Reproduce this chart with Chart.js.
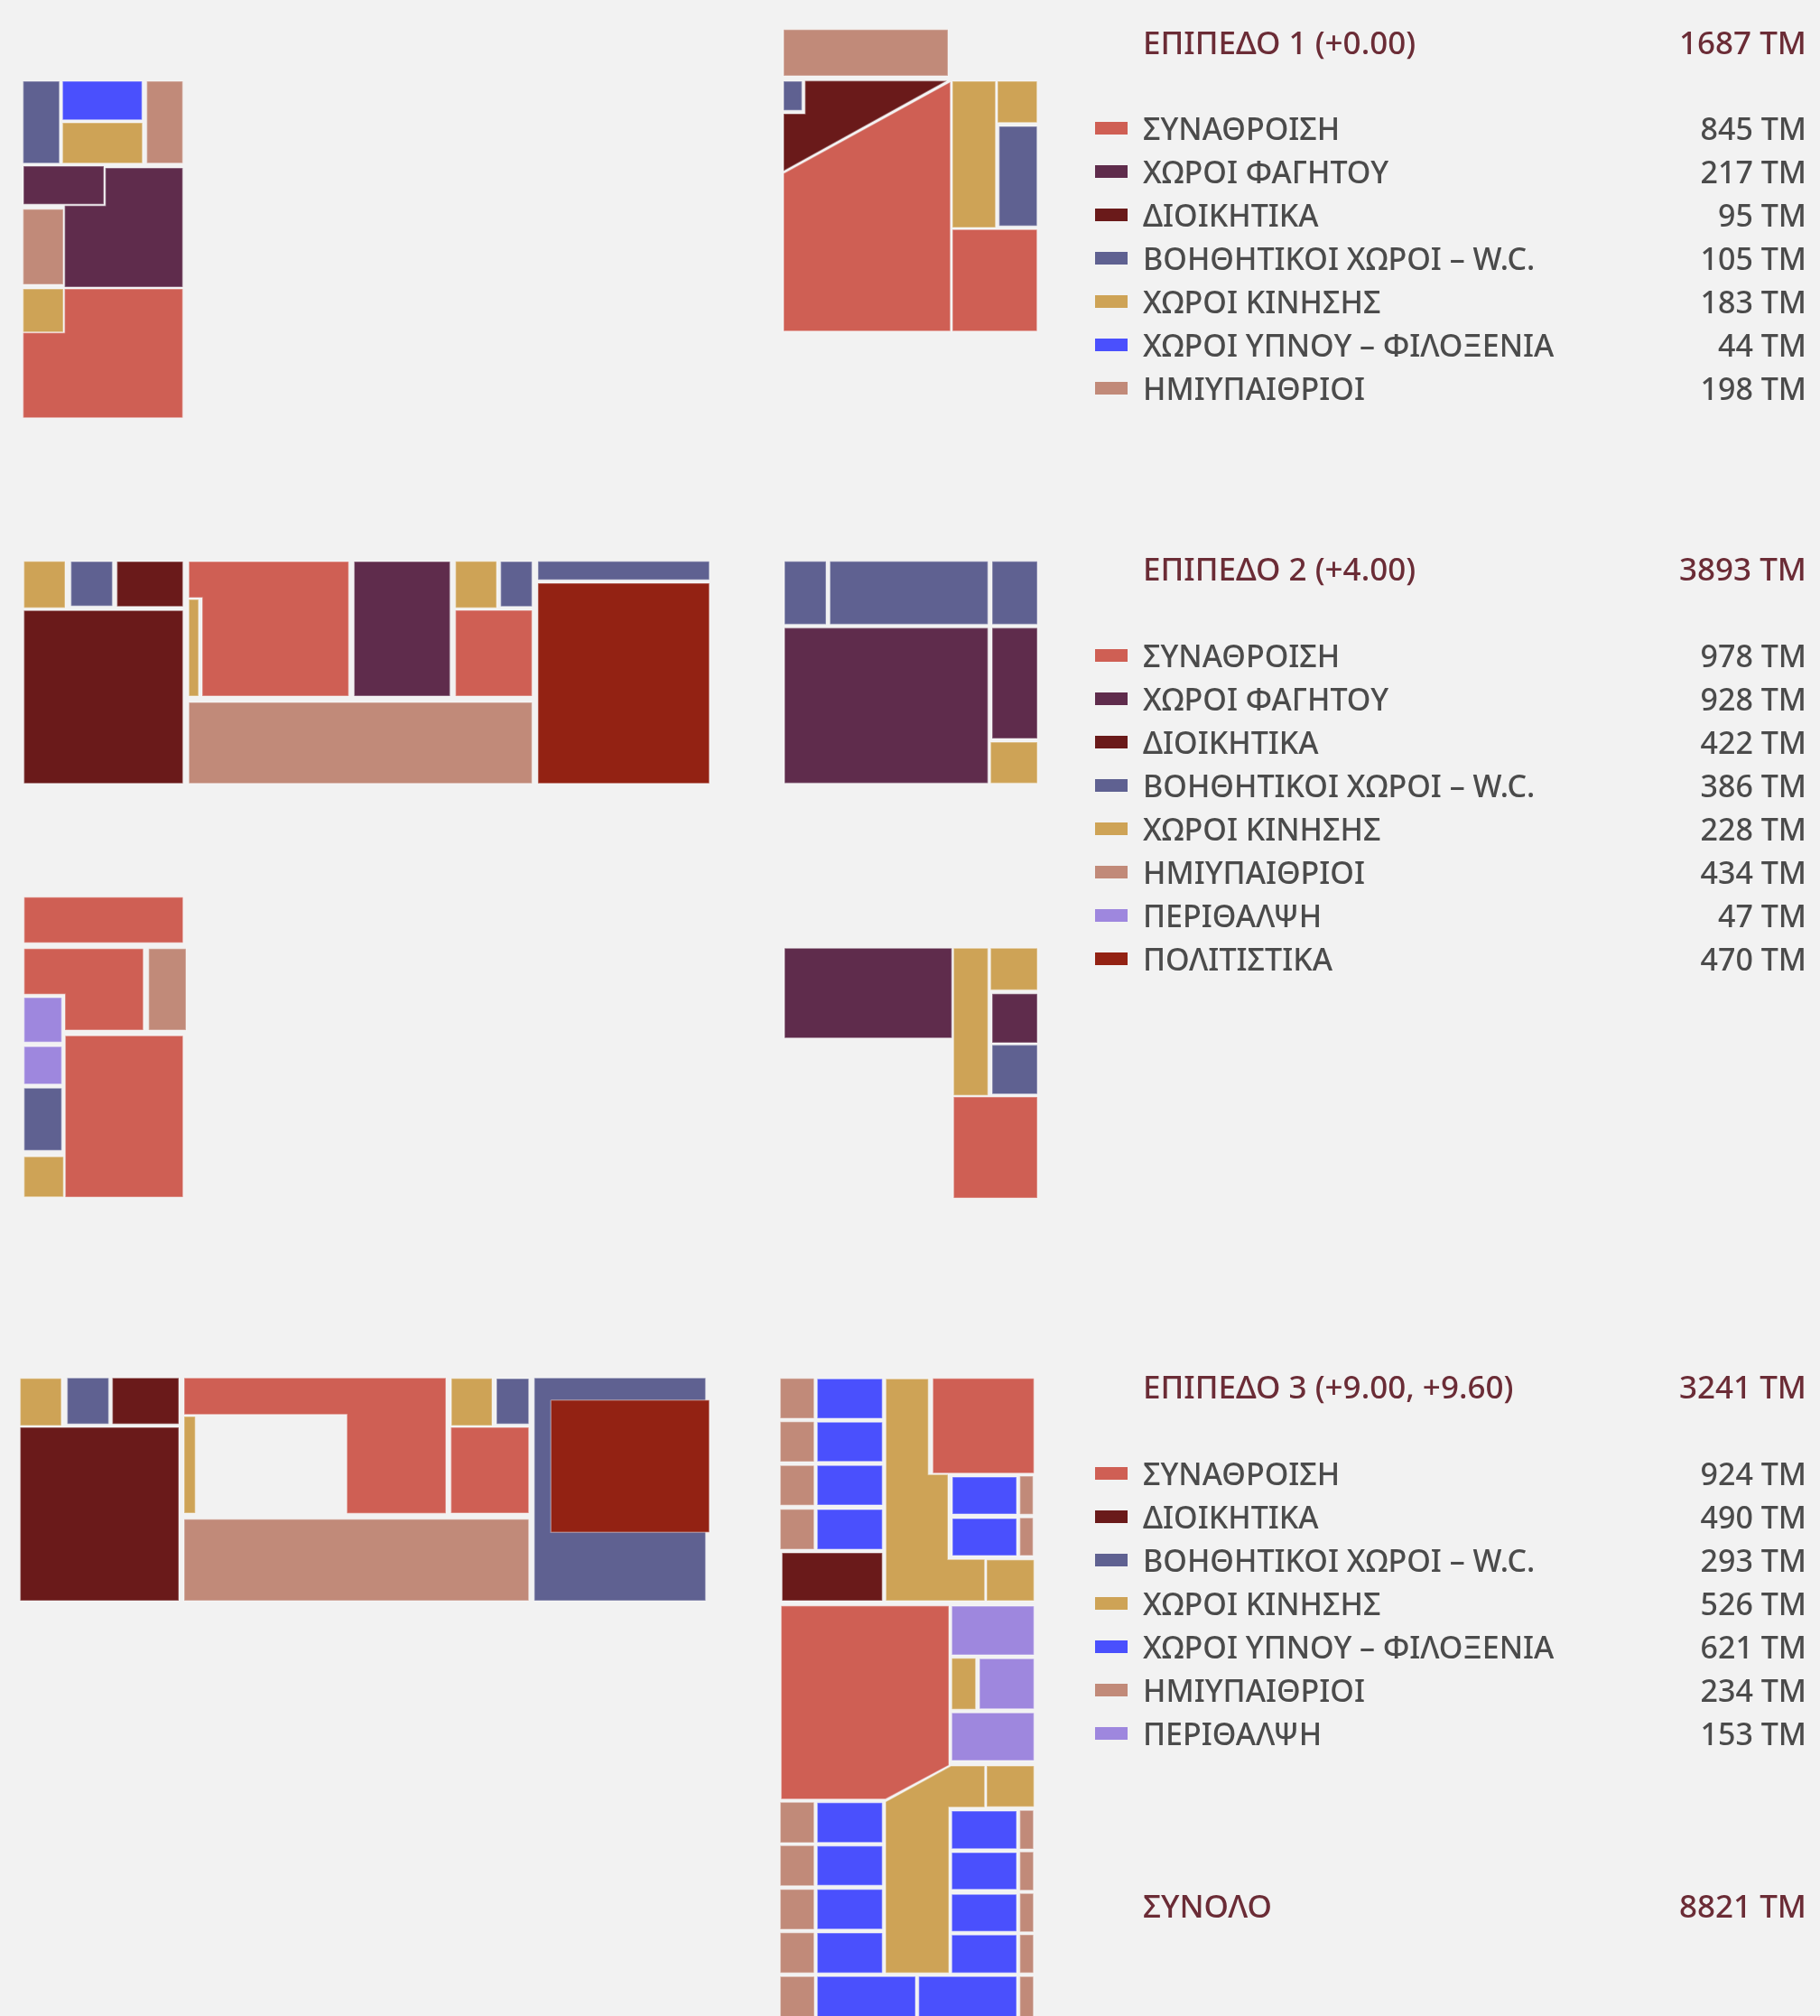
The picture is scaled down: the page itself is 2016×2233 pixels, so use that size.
<!DOCTYPE html>
<html>
<head>
<meta charset="utf-8">
<style>
  html, body { margin: 0; padding: 0; background: #f2f2f2; }
  #wrap { width: 2016px; height: 2233px; }
</style>
</head>
<body>
<div id="wrap"><canvas id="planChart" width="2016" height="2233"></canvas></div>
<script src="https://cdn.jsdelivr.net/npm/chart.js@4"></script>
<script>
// category names
const ASSEMBLY = 'ΣΥΝΑΘΡΟΙΣΗ';
const DINING = 'ΧΩΡΟΙ ΦΑΓΗΤΟΥ';
const ADMIN = 'ΔΙΟΙΚΗΤΙΚΑ';
const SERVICE = 'ΒΟΗΘΗΤΙΚΟΙ ΧΩΡΟΙ – W.C.';
const CIRCULATION = 'ΧΩΡΟΙ ΚΙΝΗΣΗΣ';
const SLEEP = 'ΧΩΡΟΙ ΥΠΝΟΥ – ΦΙΛΟΞΕΝΙΑ';
const SEMI = 'ΗΜΙΥΠΑΙΘΡΙΟΙ';
const CARE = 'ΠΕΡΙΘΑΛΨΗ';
const CULTURE = 'ΠΟΛΙΤΙΣΤΙΚΑ';

// legend tables
const level1Title = ['ΕΠΙΠΕΔΟ 1 (+0.00)', '1687 ΤΜ'];
const level1Names = [ASSEMBLY, DINING, ADMIN, SERVICE, CIRCULATION, SLEEP, SEMI];
const level1Areas = ['845 ΤΜ', '217 ΤΜ', '95 ΤΜ', '105 ΤΜ', '183 ΤΜ', '44 ΤΜ', '198 ΤΜ'];

const level2Title = ['ΕΠΙΠΕΔΟ 2 (+4.00)', '3893 ΤΜ'];
const level2Names = [ASSEMBLY, DINING, ADMIN, SERVICE, CIRCULATION, SEMI, CARE, CULTURE];
const level2Areas = ['978 ΤΜ', '928 ΤΜ', '422 ΤΜ', '386 ΤΜ', '228 ΤΜ', '434 ΤΜ', '47 ΤΜ', '470 ΤΜ'];

const level3Title = ['ΕΠΙΠΕΔΟ 3 (+9.00, +9.60)', '3241 ΤΜ'];
const level3Names = [ASSEMBLY, ADMIN, SERVICE, CIRCULATION, SLEEP, SEMI, CARE];
const level3Areas = ['924 ΤΜ', '490 ΤΜ', '293 ΤΜ', '526 ΤΜ', '621 ΤΜ', '234 ΤΜ', '153 ΤΜ'];

const totalTitle = ['ΣΥΝΟΛΟ', '8821 ΤΜ'];

const colours = {
    [ASSEMBLY]: '#cf5f54',
    [DINING]: '#5f2c4c',
    [ADMIN]: '#6a1a1a',
    [SERVICE]: '#5f6191',
    [CIRCULATION]: '#cea356',
    [SLEEP]: '#4a50fd',
    [SEMI]: '#c18a79',
    [CARE]: '#9e87de',
    [CULTURE]: '#932213'
};

// plan rooms: [category, x0, y0, x1, y1] for a rectangle, [category, [x, y, x, y, ...]] for an outline
const level1Rooms = [
    [SERVICE, 25.6, 90, 65.8, 180.7],
    [SLEEP, 69.3, 90, 157.3, 132.7],
    [CIRCULATION, 69.3, 136, 157.7, 180.7],
    [SEMI, 162.6, 90, 202.4, 180.7],
    [DINING, [116.7, 186, 202.4, 186, 202.4, 318, 71.6, 318, 71.6, 227.7, 116.7, 227.7]],
    [DINING, 26, 184, 115, 226.3],
    [SEMI, 25.6, 231.7, 70, 315],
    [ASSEMBLY, [71.5, 320, 202.4, 320, 202.4, 462.7, 25.6, 462.7, 25.6, 368.5, 71.5, 368.5]],
    [CIRCULATION, 25.6, 320, 70, 367.7],
    [SEMI, 868, 32.7, 1050, 84],
    [ADMIN, [891.7, 89.5, 1049, 89.5, 868, 189.5, 868, 126, 891.7, 126]],
    [SERVICE, 868, 90, 888.3, 122.3],
    [ASSEMBLY, [868, 192, 1052.7, 90.7, 1052.7, 366.7, 868, 366.7]],
    [CIRCULATION, 1055, 90, 1102.7, 252],
    [CIRCULATION, 1105, 90, 1148.7, 135.7],
    [SERVICE, 1106.7, 140, 1148.7, 250.3],
    [ASSEMBLY, 1055, 254.3, 1148.7, 366.7]
];

const level2Rooms = [
    [CIRCULATION, 26.5, 621.7, 72, 673.3],
    [SERVICE, 78.6, 622, 124.5, 671.3],
    [ADMIN, 129.6, 622, 202.6, 671.7],
    [ADMIN, 26.5, 676.3, 202.6, 867.7],
    [ASSEMBLY, [209.2, 622, 386.2, 622, 386.2, 771, 224, 771, 224, 662, 209.2, 662]],
    [CIRCULATION, 209.2, 664, 219.9, 771],
    [DINING, 392.3, 622, 498.5, 771],
    [CIRCULATION, 504.6, 621.7, 550, 673.3],
    [SERVICE, 554.6, 622, 589.3, 671.7],
    [ASSEMBLY, 504.6, 676, 589.3, 771],
    [SEMI, 209.2, 778, 589.3, 867.7],
    [SERVICE, 595.9, 621.7, 785.7, 642.3],
    [CULTURE, 595.9, 646, 785.7, 867.7],
    [SERVICE, 869, 621.8, 915, 691.6],
    [SERVICE, 919.3, 621.8, 1094.3, 691.6],
    [SERVICE, 1099, 621.8, 1149, 691.6],
    [DINING, 869, 695.5, 1094.3, 867.6],
    [DINING, 1099, 695.5, 1149, 818],
    [CIRCULATION, 1097.3, 822, 1149, 867.6],
    [ASSEMBLY, 26.7, 993.7, 202.7, 1044.3],
    [ASSEMBLY, [26.7, 1050.7, 158.7, 1050.7, 158.7, 1141, 72, 1141, 72, 1101.3, 26.7, 1101.3]],
    [SEMI, 164.7, 1050.7, 206, 1141],
    [CARE, 26.7, 1105, 68.3, 1154.3],
    [CARE, 26.7, 1159.3, 68.3, 1200.7],
    [SERVICE, 26.7, 1205.3, 68.3, 1274.3],
    [CIRCULATION, 26.7, 1281.3, 70.3, 1325.7],
    [ASSEMBLY, 72.3, 1147.3, 202.7, 1326],
    [DINING, 869, 1050.3, 1054.3, 1149.7],
    [CIRCULATION, 1056.3, 1050.3, 1094.3, 1213.2],
    [CIRCULATION, 1097.3, 1050.3, 1149, 1096.4],
    [DINING, 1099, 1100.7, 1149, 1155],
    [SERVICE, 1099, 1157.4, 1149, 1211.7],
    [ASSEMBLY, 1056.3, 1215, 1149, 1327]
];

const level3Rooms = [
    [CIRCULATION, 22.4, 1526.7, 67.9, 1579],
    [SERVICE, 74.5, 1526.3, 120.4, 1577.3],
    [ADMIN, 124.5, 1526.3, 198, 1577.3],
    [ADMIN, 22.4, 1581, 198, 1773],
    [ASSEMBLY, [204, 1526.3, 493.9, 1526.3, 493.9, 1676.3, 384.2, 1676.3, 384.2, 1566.7, 204, 1566.7]],
    [CIRCULATION, 204, 1569, 216.3, 1676],
    [CIRCULATION, 500, 1526.7, 545, 1579],
    [SERVICE, 550, 1527, 585.7, 1577.3],
    [ASSEMBLY, 499.5, 1581, 585.7, 1676],
    [SEMI, 204, 1682.7, 585.7, 1773],
    [SERVICE, 591.8, 1526.3, 781.6, 1773],
    [CULTURE, 610.2, 1550.7, 785.7, 1697.3],
    [SEMI, 864.3, 1526.7, 901.7, 1571],
    [SEMI, 864.3, 1574.7, 901.7, 1619],
    [SEMI, 864.3, 1623.3, 901.7, 1667.3],
    [SEMI, 864.3, 1671.7, 901.7, 1716],
    [SLEEP, 905.3, 1527.3, 977.3, 1571],
    [SLEEP, 905.3, 1575.3, 977.3, 1618.7],
    [SLEEP, 905.3, 1623.3, 977.3, 1667],
    [SLEEP, 905.3, 1672, 977.3, 1716],
    [ADMIN, 866.3, 1720, 977.3, 1773],
    [CIRCULATION, [981.3, 1527.3, 1028.3, 1527.3, 1028.3, 1633.3, 1050, 1633.3, 1050, 1727.3, 1090.7, 1727.3, 1090.7, 1773, 981.3, 1773]],
    [CIRCULATION, 1093, 1727.7, 1145.3, 1773],
    [ASSEMBLY, 1033.3, 1526.7, 1145.3, 1631.7],
    [SLEEP, 1055, 1636, 1126, 1677],
    [SLEEP, 1055, 1682, 1126, 1723],
    [SEMI, 1129.7, 1635, 1144.3, 1677.3],
    [SEMI, 1129.7, 1681.3, 1144.3, 1723],
    [ASSEMBLY, [865.3, 1778.7, 1051, 1778.7, 1051, 1955.3, 981, 1992.7, 865.3, 1992.7]],
    [CARE, 1054.3, 1779, 1145.3, 1833],
    [CIRCULATION, 1054.3, 1836.7, 1080.7, 1893.3],
    [CARE, 1085, 1837.3, 1145.3, 1892.7],
    [CARE, 1054.3, 1897.3, 1145.3, 1950],
    [CIRCULATION, [981, 1995.7, 1053.3, 1956, 1090.7, 1956, 1090.7, 2001.7, 1051, 2001.7, 1051, 2185.3, 981, 2185.3]],
    [CIRCULATION, 1093, 1956, 1145.3, 2001.3],
    [SEMI, 864.3, 1996.3, 901.7, 2041],
    [SEMI, 864.3, 2044.3, 901.7, 2088.7],
    [SEMI, 864.3, 2092.7, 901.7, 2137],
    [SEMI, 864.3, 2140.7, 901.7, 2185.3],
    [SEMI, 864.3, 2189.3, 902, 2240],
    [SLEEP, 905.3, 1996.7, 977.3, 2040.7],
    [SLEEP, 905.3, 2044.7, 977.3, 2088.3],
    [SLEEP, 905.3, 2092.7, 977.3, 2136.7],
    [SLEEP, 905.3, 2141, 977.3, 2185.3],
    [SLEEP, 905.3, 2189.3, 1014, 2240],
    [SLEEP, 1017.7, 2189.3, 1126, 2240],
    [SLEEP, 1054.3, 2006, 1126, 2047.7],
    [SLEEP, 1054.3, 2052, 1126, 2092.7],
    [SLEEP, 1054.3, 2098.3, 1126, 2139.3],
    [SLEEP, 1054.3, 2143.3, 1126, 2185.3],
    [SEMI, 1129.7, 2005.3, 1144.7, 2048],
    [SEMI, 1129.7, 2051.3, 1144.7, 2093.7],
    [SEMI, 1129.7, 2097.3, 1144.7, 2139.7],
    [SEMI, 1129.7, 2143, 1144.7, 2185.3],
    [SEMI, 1129.7, 2189.3, 1144.7, 2240]
];

function outline(room) {
    let flat = room[1];
    if (!Array.isArray(flat)) {
        const [, x0, y0, x1, y1] = room;
        flat = [x0, y0, x1, y0, x1, y1, x0, y1];
    }
    const pts = [];
    for (let i = 0; i < flat.length; i += 2) pts.push({ x: flat[i], y: flat[i + 1] });
    pts.push(pts[0]); // close it
    return pts;
}

const allRooms = [...level1Rooms, ...level2Rooms, ...level3Rooms];

// chart.js paints dataset 0 last, so reverse to keep the list order bottom to top
const datasets = allRooms.map(room => ({
    label: room[0],
    data: outline(room),
    showLine: true,
    fill: 'shape',
    tension: 0,
    pointRadius: 0,
    backgroundColor: colours[room[0]],
    borderColor: 'rgba(255,255,255,0.35)',
    borderWidth: 1.5,
    borderJoinStyle: 'miter'
})).reverse();

// legend layout
const textLeft = 1266, valueRight = 2001, swatchLeft = 1213, swatchRight = 1249;
const rowStep = 48;
const legendBlocks = [
    { title: level1Title, names: level1Names, areas: level1Areas, titleY: 59.5, firstRowY: 155 },
    { title: level2Title, names: level2Names, areas: level2Areas, titleY: 643, firstRowY: 739 },
    { title: level3Title, names: level3Names, areas: level3Areas, titleY: 1549, firstRowY: 1645 },
    { title: totalTitle, names: [], areas: [], titleY: 2124, firstRowY: 0 }
];

const legendPlugin = {
    id: 'planLegend',
    afterDraw(chart) {
        const { ctx, scales: { x, y } } = chart;
        ctx.save();
        ctx.textBaseline = 'alphabetic';
        legendBlocks.forEach(block => {
            ctx.font = '500 35px "Noto Sans"';
            ctx.fillStyle = '#6b2c36';
            ctx.textAlign = 'left';
            ctx.fillText(block.title[0], x.getPixelForValue(textLeft), y.getPixelForValue(block.titleY));
            ctx.textAlign = 'right';
            ctx.fillText(block.title[1], x.getPixelForValue(valueRight), y.getPixelForValue(block.titleY));
            ctx.font = '500 34px "Noto Sans"';
            block.names.forEach((name, i) => {
                const rowY = block.firstRowY + i * rowStep;
                ctx.fillStyle = colours[name];
                ctx.fillRect(x.getPixelForValue(swatchLeft), y.getPixelForValue(rowY - 20),
                    swatchRight - swatchLeft, 14);
                ctx.fillStyle = '#4b4b4b';
                ctx.textAlign = 'left';
                ctx.fillText(name, x.getPixelForValue(textLeft), y.getPixelForValue(rowY));
                ctx.textAlign = 'right';
                ctx.fillText(block.areas[i], x.getPixelForValue(valueRight), y.getPixelForValue(rowY));
            });
        });
        ctx.restore();
    }
};

new Chart(document.getElementById('planChart').getContext('2d'), {
    type: 'scatter',
    data: { datasets },
    options: {
        responsive: false,
        animation: false,
        layout: { padding: 0 },
        plugins: { legend: { display: false }, tooltip: { enabled: false } },
        scales: {
            x: { type: 'linear', display: false, min: 0, max: 2016 },
            y: { type: 'linear', display: false, min: 0, max: 2233, reverse: true }
        }
    },
    plugins: [legendPlugin]
});
</script>
</body>
</html>
